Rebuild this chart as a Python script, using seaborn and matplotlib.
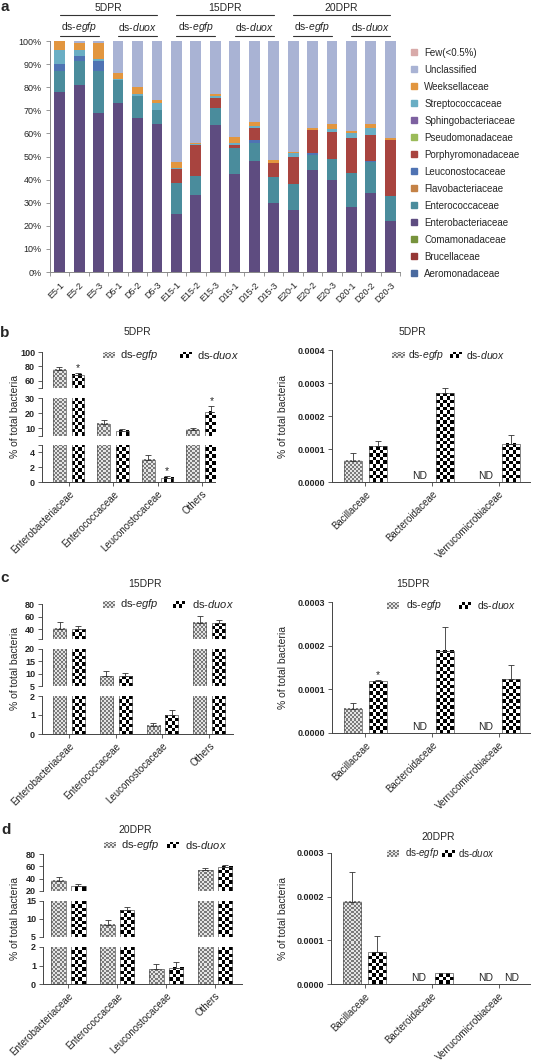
import numpy as np
import pandas as pd
import seaborn as sns
import matplotlib.pyplot as plt
from matplotlib.colors import ListedColormap
from matplotlib.lines import Line2D
from matplotlib.transforms import blended_transform_factory

sns.set_style("ticks")
plt.rcParams["font.family"] = ["Liberation Sans", "DejaVu Sans"]
plt.rcParams["mathtext.fontset"] = "custom"
plt.rcParams["mathtext.rm"] = "Liberation Sans"
plt.rcParams["mathtext.it"] = "Liberation Sans:italic"

W, H = 543, 1062

# ---------------- panel a: relative abundance per sample (%)
samples = ["E5-1", "E5-2", "E5-3", "D5-1", "D5-2", "D5-3",
           "E15-1", "E15-2", "E15-3", "D15-1", "D15-2", "D15-3",
           "E20-1", "E20-2", "E20-3", "D20-1", "D20-2", "D20-3"]
families = ["Few(<0.5%)", "Unclassified", "Weeksellaceae", "Streptococcaceae",
            "Sphingobacteriaceae", "Pseudomonadaceae", "Porphyromonadaceae",
            "Leuconostocaceae", "Flavobacteriaceae", "Enterococcaceae",
            "Enterobacteriaceae", "Comamonadaceae", "Brucellaceae", "Aeromonadaceae"]
family_colors = ["#d8aaa9", "#a9b3d4", "#e2963f", "#6aaec4", "#7d61a0", "#9bbb59",
                 "#a8443f", "#4f73b3", "#c48246", "#4a8c9c", "#5e4c80", "#77933c",
                 "#953735", "#4a6a9f"]

few = [0] * 18
unclassified = [0, 1, 1, 14, 20, 25.5, 52.5, 44, 23, 41.5, 35, 51.5, 48, 37.5, 36, 39, 36, 42]
weeksellaceae = [4, 3, 7, 2.5, 3, 1.5, 2.5, 0.5, 1, 2.5, 2, 1.5, 0.5, 1, 2, 1, 1.5, 1]
streptococcaceae = [6, 2.5, 0.5, 0.5, 1, 3, 0.5, 0.5, 0.5, 1, 0.5, 0, 1.5, 0, 1.5, 2, 3, 0]
sphingobacteriaceae = [0] * 18
pseudomonadaceae = [0] * 18
porphyromonadaceae = [0, 0, 0, 0, 0, 0, 6, 13.5, 4.5, 1.5, 5.5, 6, 12, 10, 11.5, 15, 11.5, 24]
leuconostocaceae = [3, 2, 4.5, 0, 0, 0, 0, 0, 0, 0, 1, 0, 0, 1, 0, 0, 0.5, 0]
flavobacteriaceae = [0] * 18
enterococcaceae = [9, 10.5, 18, 10, 9.5, 6, 13.5, 8, 7.5, 11, 8, 11, 11, 6.5, 9, 15, 13.5, 11]
enterobacteriaceae = [78, 81, 69, 73, 66.5, 64, 25, 33.5, 63.5, 42.5, 48, 30, 27, 44, 40, 28, 34, 22]
comamonadaceae = [0] * 18
brucellaceae = [0] * 18
aeromonadaceae = [0] * 18

# ---------------- panels b-d: group means and SEM
groups = ["ds-egfp", "ds-duox"]
main_cats = ["Enterobacteriaceae", "Enterococcaceae", "Leuconostocaceae", "Others"]
minor_cats = ["Bacillaceae", "Bacteroidaceae", "Verrucomicrobiaceae"]

b_egfp = [75.6, 13.0, 3.0, 9.0]
b_egfp_err = [3.7, 2.7, 0.7, 1.4]
b_duox = [68.5, 8.3, 0.55, 21.0]
b_duox_err = [2.4, 1.5, 0.25, 4.0]
b_duox_star = [True, False, True, True]

b_min_egfp = [6.5e-5, 0, 0]
b_min_egfp_err = [2.2e-5, 0, 0]
b_min_duox = [1.08e-4, 2.69e-4, 1.16e-4]
b_min_duox_err = [1.6e-5, 1.7e-5, 2.5e-5]
b_min_nd_egfp = [False, True, True]

c_egfp = [41.5, 9.0, 0.44, 50.5]
c_egfp_err = [11.0, 2.0, 0.14, 11.0]
c_duox = [40.0, 9.0, 1.0, 49.5]
c_duox_err = [5.0, 1.1, 0.26, 6.0]

c_min_egfp = [5.5e-5, 0, 0]
c_min_egfp_err = [1.4e-5, 0, 0]
c_min_duox = [1.19e-4, 1.88e-4, 1.23e-4]
c_min_duox_err = [2e-6, 5.5e-5, 3.3e-5]
c_min_duox_star = [True, False, False]
c_min_nd_egfp = [False, True, True]

d_egfp = [36.5, 8.4, 0.8, 53.5]
d_egfp_err = [6.0, 1.3, 0.27, 4.3]
d_duox = [27.6, 12.4, 0.89, 59.0]
d_duox_err = [4.3, 0.8, 0.32, 3.7]

d_min_egfp = [1.88e-4, 0, 0]
d_min_egfp_err = [6.8e-5, 0, 0]
d_min_duox = [7.3e-5, 2.5e-5, 0]
d_min_duox_err = [3.6e-5, 0, 0]
d_min_nd_egfp = [False, True, True]
d_min_nd_duox = [False, False, True]

fig = plt.figure(figsize=(W / 100, H / 100), dpi=100)


def box(x0, y0, x1, y1):
    return [x0 / W, 1 - y1 / H, (x1 - x0) / W, (y1 - y0) / H]


def fx(x):
    return x / W


def fy(y):
    return 1 - y / H


def checker(nr, nc):
    return np.add.outer(np.arange(nr), np.arange(nc)) % 2


LIGHT = ListedColormap(["#e4e4e4", "#7a7a7a"])
DARK = ListedColormap(["white", "black"])


def texture(ax, p, light, lo, hi):
    y0 = max(p.get_y(), lo)
    y1 = min(p.get_y() + p.get_height(), hi)
    if y1 <= y0:
        return
    x0 = p.get_x()
    x1 = x0 + p.get_width()
    (a0, b0), (a1, b1) = ax.transData.transform([(x0, y0), (x1, y1)])
    s = 2.0 if light else 3.4
    nc = max(1, int(round((a1 - a0) / s)))
    nr = max(1, int(round((b1 - b0) / s)))
    ax.imshow(checker(nr, nc), cmap=LIGHT if light else DARK, vmin=0, vmax=1,
              extent=(x0, x1, y0, y1), origin="lower", interpolation="nearest",
              aspect="auto", zorder=1.5)
    p.set_facecolor("none")
    p.set_edgecolor("#555555")
    p.set_linewidth(0.5)
    p.set_zorder(2)


def bar_panel(x0, x1, segs, xlim, cats, egfp, egfp_err, duox, duox_err,
              stars=None, nd_egfp=None, nd_duox=None, width=0.8, gap=0.3,
              fmt="{:.0f}", ylab_x=15):
    n = len(cats)
    df = pd.DataFrame({"family": list(cats) * 2,
                       "group": [groups[0]] * n + [groups[1]] * n,
                       "value": list(egfp) + list(duox)})
    errs = list(egfp_err) + list(duox_err)
    marks = [False] * n + list(stars or [False] * n)
    nds = list(nd_egfp or [False] * n) + list(nd_duox or [False] * n)
    for k, (top, bot, lo, hi, ticks) in enumerate(segs):
        last = k == len(segs) - 1
        ax = fig.add_axes(box(x0, top, x1, bot))
        sns.barplot(data=df, x="family", y="value", hue="group", hue_order=groups,
                    palette=["#bbbbbb", "white"], width=width, gap=gap,
                    errorbar=None, legend=False, ax=ax)
        ax.set_xlim(*xlim)
        ax.set_ylim(lo, hi)
        for j, p in enumerate(ax.patches[:2 * n]):
            texture(ax, p, j < n, lo, hi)
            xc = p.get_x() + p.get_width() / 2
            v = p.get_height()
            if errs[j] > 0:
                ax.errorbar(xc, v, yerr=[[0], [errs[j]]], fmt="none", ecolor="#333333",
                            elinewidth=0.6, capsize=2.5, capthick=0.6, zorder=3)
            tip = v + errs[j]
            if marks[j] and lo <= tip < hi:
                ax.annotate("*", (xc, tip), xytext=(0, 0), textcoords="offset points",
                            ha="center", va="bottom", fontsize=7.5, annotation_clip=False)
            if nds[j] and last:
                ax.annotate("ND", (xc, 0), xytext=(0, 1), textcoords="offset points",
                            ha="center", va="bottom", fontsize=7.5)
        ax.set_xlim(*xlim)
        ax.set_ylim(lo, hi)
        sns.despine(ax=ax, top=True, right=True, bottom=not last)
        ax.set_yticks(ticks, labels=[fmt.format(t) for t in ticks], fontweight="bold")
        ends = [e for e in (lo, hi) if not np.any(np.isclose(e, ticks))]
        ax.set_yticks(ends, minor=True)
        ax.tick_params(axis="y", which="both", length=3, width=0.6, labelsize=6.5,
                       pad=2, color="#444444")
        if last:
            ax.set_xticks(range(n))
            ax.set_xticklabels(cats, rotation=45, ha="right", rotation_mode="anchor", fontsize=7)
            ax.tick_params(axis="x", length=3, width=0.6, pad=2, color="#444444")
        else:
            ax.set_xticks([])
        for sp in ax.spines.values():
            sp.set_color("#444444")
            sp.set_linewidth(0.7)
        ax.set_xlabel("")
        ax.set_ylabel("")
    mid = (segs[0][0] + segs[-1][1]) / 2
    fig.text(fx(ylab_x), fy(mid), "% of total bacteria", rotation=90,
             ha="center", va="center", fontsize=7.5)


def pair_legend(y, xe, xte, xd, xtd, size=7.5):
    for xp, xt, light, label in [(xe, xte, True, r"ds-$\it{egfp}$"),
                                 (xd, xtd, False, r"ds-$\it{duox}$")]:
        lax = fig.add_axes(box(xp, y - 3.5, xp + 12, y + 3.5))
        s = 2.0 if light else 3.4
        lax.imshow(checker(max(1, int(round(7 / s))), int(round(12 / s))),
                   cmap=LIGHT if light else DARK, vmin=0, vmax=1,
                   aspect="auto", interpolation="nearest")
        lax.axis("off")
        fig.text(fx(xt), fy(y), label, ha="left", va="center", fontsize=size)


# ================= panel a
comp = {"Few(<0.5%)": few, "Unclassified": unclassified, "Weeksellaceae": weeksellaceae,
        "Streptococcaceae": streptococcaceae, "Sphingobacteriaceae": sphingobacteriaceae,
        "Pseudomonadaceae": pseudomonadaceae, "Porphyromonadaceae": porphyromonadaceae,
        "Leuconostocaceae": leuconostocaceae, "Flavobacteriaceae": flavobacteriaceae,
        "Enterococcaceae": enterococcaceae, "Enterobacteriaceae": enterobacteriaceae,
        "Comamonadaceae": comamonadaceae, "Brucellaceae": brucellaceae,
        "Aeromonadaceae": aeromonadaceae}
df_a = pd.DataFrame({"pos": np.tile(np.arange(len(samples)), len(families)),
                     "family": np.repeat(families, len(samples)),
                     "pct": np.concatenate([comp[f] for f in families])})
palette = dict(zip(families, family_colors))

ax = fig.add_axes(box(50, 41, 400, 272))
sns.histplot(data=df_a, x="pos", weights="pct", hue="family", hue_order=families,
             palette=palette, multiple="stack", discrete=True, shrink=0.56,
             alpha=1, linewidth=0, legend=False, ax=ax)
ax.set_xlim(-0.4, 17.35)
ax.set_ylim(0, 100)
ax.set_yticks(range(0, 101, 10), labels=[f"{v}%" for v in range(0, 101, 10)])
ax.set_xticks(range(len(samples)))
ax.set_xticklabels(samples, rotation=45, ha="right", rotation_mode="anchor")
ax.set_xticks(np.arange(-0.5, len(samples), 1), minor=True)
ax.tick_params(axis="x", which="major", length=0, pad=6, labelsize=6.5)
ax.tick_params(axis="x", which="minor", length=3, width=0.6, color="#888888")
ax.tick_params(axis="y", length=3, width=0.6, labelsize=6.5, color="#888888", pad=3)
ax.set_xlabel("")
ax.set_ylabel("")
sns.despine(ax=ax)
for sp in ax.spines.values():
    sp.set_color("#888888")
    sp.set_linewidth(0.7)

handles = [Line2D([], [], marker="s", ls="", markersize=4.5, mfc=c, mec=c)
           for c in family_colors]
ax.legend(handles, families, loc="upper left", bbox_to_anchor=(fx(405), fy(43)),
          bbox_transform=fig.transFigure, frameon=False, fontsize=7,
          handlelength=0.8, handletextpad=0.7, labelspacing=0.72, borderpad=0)

tr = blended_transform_factory(ax.transData, fig.transFigure)
for label, i0, i1 in [("5DPR", 0, 5), ("15DPR", 6, 11), ("20DPR", 12, 17)]:
    ax.plot([i0, i1], [fy(15)] * 2, transform=tr, clip_on=False, color="#333333", lw=0.8)
    ax.text((i0 + i1) / 2, fy(8), label, transform=tr, ha="center", va="center", fontsize=7.5)
    for g, (j0, j1) in zip(groups, [(i0, i0 + 2), (i0 + 3, i1)]):
        ax.plot([j0, j1], [fy(36)] * 2, transform=tr, clip_on=False, color="#333333", lw=0.8)
        ax.text((j0 + j1) / 2, fy(27), r"ds-$\it{%s}$" % g[3:], transform=tr,
                ha="center", va="center", fontsize=7.5)

# ================= panel b
minor_xlim = (-0.5, 2.47)
bar_panel(42, 215, [(352, 388, 50, 100, [60, 80, 100]),
                    (398, 436, 5, 30, [10, 20, 30]),
                    (445, 482, 0, 5, [0, 2, 4])],
          (-0.6, 3.29), main_cats, b_egfp, b_egfp_err, b_duox, b_duox_err,
          stars=b_duox_star, width=0.84, gap=0.31)
bar_panel(332, 530, [(350, 482, 0, 4e-4, [0, 1e-4, 2e-4, 3e-4, 4e-4])],
          minor_xlim, minor_cats, b_min_egfp, b_min_egfp_err, b_min_duox, b_min_duox_err,
          nd_egfp=b_min_nd_egfp, width=0.76, gap=0.29, fmt="{:.4f}", ylab_x=283)
pair_legend(355, 103, 120, 180, 197, size=8)
pair_legend(355, 392, 408, 450, 466, size=7.5)

# ================= panel c
bar_panel(42, 233, [(604, 639, 25, 80, [40, 60, 80]),
                    (649, 686, 5, 20, [5, 10, 15, 20]),
                    (696, 734, 0, 2, [0, 1, 2])],
          (-0.58, 3.51), main_cats, c_egfp, c_egfp_err, c_duox, c_duox_err,
          width=0.8, gap=0.3)
bar_panel(332, 530, [(602, 733, 0, 3e-4, [0, 1e-4, 2e-4, 3e-4])],
          minor_xlim, minor_cats, c_min_egfp, c_min_egfp_err, c_min_duox, c_min_duox_err,
          stars=c_min_duox_star, nd_egfp=c_min_nd_egfp, width=0.76, gap=0.29,
          fmt="{:.4f}", ylab_x=283)
pair_legend(604, 103, 120, 173, 192, size=8)
pair_legend(605, 387, 406, 459, 477, size=7.5)

# ================= panel d
bar_panel(43, 242, [(854, 891, 20, 80, [20, 40, 60, 80]),
                    (901, 937, 5, 15, [5, 10, 15]),
                    (947, 984, 0, 2, [0, 1, 2])],
          (-0.52, 3.55), main_cats, d_egfp, d_egfp_err, d_duox, d_duox_err,
          width=0.8, gap=0.25)
bar_panel(331, 530, [(853, 984, 0, 3e-4, [0, 1e-4, 2e-4, 3e-4])],
          minor_xlim, minor_cats, d_min_egfp, d_min_egfp_err, d_min_duox, d_min_duox_err,
          nd_egfp=d_min_nd_egfp, nd_duox=d_min_nd_duox, width=0.76, gap=0.29,
          fmt="{:.4f}", ylab_x=283)
pair_legend(845, 104, 121, 167, 185, size=8)
pair_legend(853, 387, 405, 442, 458, size=7)

# titles and panel letters
for x, y, t in [(137, 332, "5DPR"), (412, 332, "5DPR"), (145, 584, "15DPR"),
                (413, 584, "15DPR"), (135, 830, "20DPR"), (438, 837, "20DPR")]:
    fig.text(fx(x), fy(y), t, ha="center", va="center", fontsize=7.5)
for x, y, t in [(5, 7, "a"), (5, 333, "b"), (5, 578, "c"), (6, 830, "d")]:
    fig.text(fx(x), fy(y), t, ha="center", va="center", fontsize=11, fontweight="bold")

fig.savefig("out.png", dpi=100)
